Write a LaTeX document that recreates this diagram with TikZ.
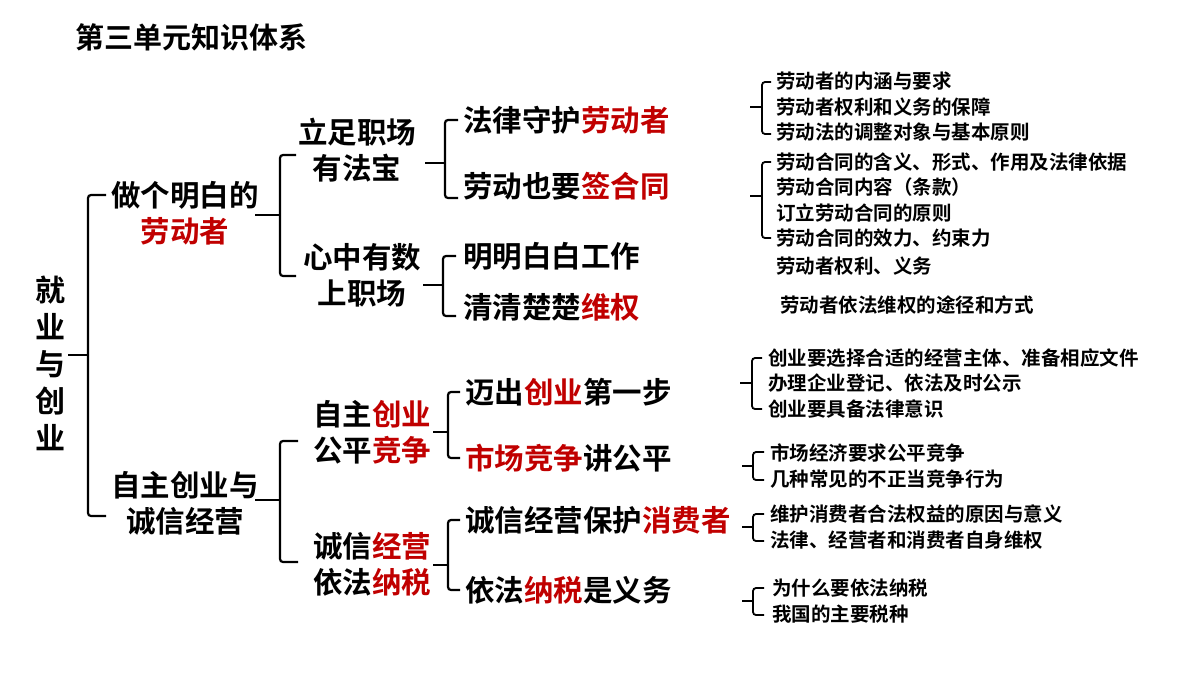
\documentclass[tikz,border=0pt]{standalone}
\usepackage{fontspec}
\setmainfont{Noto Sans CJK SC}[UprightFont=* Bold,BoldFont=* Black]
\definecolor{myred}{HTML}{C00000}
\newcommand{\rd}[1]{\textcolor{myred}{#1}}
% bracket: stem x, vertical x, stub end x, top y, bottom y, mid y
\newcommand{\brk}[6]{\draw[brk] (#3,#4) -- (#2,#4) -- (#2,#5) -- (#3,#5); \draw[brk] (#1,#6) -- (#2,#6);}
\begin{document}
\begin{tikzpicture}[x=1pt,y=-1pt,
  brk/.style={line width=2.2pt,rounded corners=3pt},
  big/.style={font=\fontsize{29.5}{36}\selectfont,inner sep=0pt,align=center},
  lbig/.style={big,anchor=west},
  sm/.style={font=\fontsize{19.5}{25.5}\selectfont,inner sep=0pt,anchor=west,align=left},
  ttl/.style={font=\fontsize{29}{32}\selectfont,inner sep=0pt,anchor=west}]
\useasboundingbox (0,0) rectangle (1200,675);
\node[ttl] (title) at (75,37) {第三单元知识体系};
\node[big,font=\fontsize{30}{37}\selectfont] (root) at (50,363) {就\\业\\与\\创\\业};
\brk{68}{88}{106}{195}{516}{355}
\node[big] (a) at (185,213) {做个明白的\\\rd{劳动者}};
\node[big] (b) at (185,503) {自主创业与\\诚信经营};
% upper
\brk{255}{280}{296}{155}{276}{215}
\node[big] (a1) at (357,150) {立足职场\\有法宝};
\node[big] (a2) at (362,275) {心中有数\\上职场};
\brk{425}{445}{458}{120}{198}{163}
\node[lbig] (a11) at (463,120) {法律守护\rd{劳动者}};
\node[lbig] (a12) at (463,186) {劳动也要\rd{签合同}};
\brk{423}{443}{456}{256}{316}{285}
\node[lbig] (a21) at (463,256) {明明白白工作};
\node[lbig] (a22) at (463,307) {清清楚楚\rd{维权}};
\begin{scope}[brk/.append style={line width=1.8pt}]
\brk{750}{762}{771}{82}{134}{107}
\brk{750}{762}{771}{162}{238}{196}
\brk{740}{752}{762}{358}{409}{383}
\brk{742}{753}{764}{452}{480}{466}
\brk{742}{753}{764}{514}{541}{527}
\brk{742}{753}{764}{588}{615}{601}
\end{scope}
\node[sm] (s1) at (776,107) {劳动者的内涵与要求\\劳动者权利和义务的保障\\劳动法的调整对象与基本原则};
\node[sm] (s2) at (776,200) {劳动合同的含义、形式、作用及法律依据\\劳动合同内容（条款）\\订立劳动合同的原则\\劳动合同的效力、约束力};
\node[sm] (s3) at (776,266) {劳动者权利、义务};
\node[sm] (s4) at (780,305) {劳动者依法维权的途径和方式};
% lower
\brk{255}{280}{298}{441}{562}{500}
\node[big] (b1) at (372,432) {自主\rd{创业}\\公平\rd{竞争}};
\node[big] (b2) at (372,564) {诚信\rd{经营}\\依法\rd{纳税}};
\brk{433}{448}{460}{392}{458}{432}
\node[lbig] (b11) at (465,392) {迈出\rd{创业}第一步};
\node[lbig] (b12) at (465,458) {\rd{市场竞争}讲公平};
\brk{433}{448}{460}{520}{590}{565}
\node[lbig] (b21) at (465,520) {诚信经营保护\rd{消费者}};
\node[lbig] (b22) at (465,590) {依法\rd{纳税}是义务};
\node[sm] (t1) at (768,383) {创业要选择合适的经营主体、准备相应文件\\办理企业登记、依法及时公示\\创业要具备法律意识};
\node[sm] (t2) at (770,466) {市场经济要求公平竞争\\几种常见的不正当竞争行为};
\node[sm] (t3) at (770,527) {维护消费者合法权益的原因与意义\\法律、经营者和消费者自身维权};
\node[sm] (t4) at (772,601) {为什么要依法纳税\\我国的主要税种};
\end{tikzpicture}
\end{document}
